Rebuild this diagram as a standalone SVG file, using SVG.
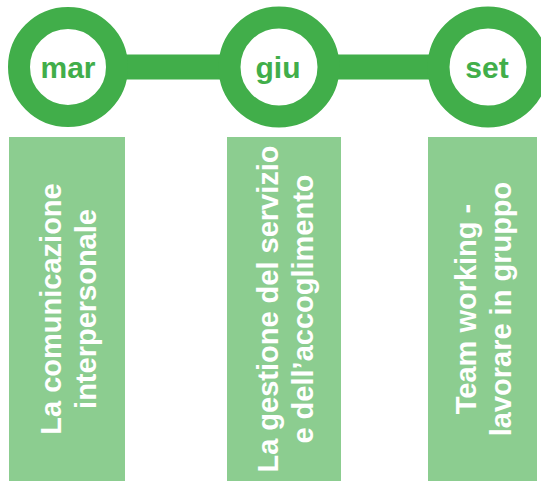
<svg xmlns="http://www.w3.org/2000/svg" width="541" height="481" viewBox="0 0 541 481">
<style>
.ring{fill:#fff;stroke:#41AE4A;stroke-width:22}
.lbl{font-family:"Liberation Sans",Arial,sans-serif;font-weight:bold;font-size:30px;fill:#41AE4A;text-anchor:middle}
.box{fill:#8CCD90}
.bt{font-family:"Liberation Sans",Arial,sans-serif;font-weight:bold;font-size:29px;fill:#fff;text-anchor:middle}
</style>
<g id="connectors">
<rect x="68" y="54.5" width="420" height="25" fill="#41AE4A"/>
</g>
<g id="mar">
<circle class="ring" cx="68" cy="67" r="49"/>
<text class="lbl" x="68" y="77.5">mar</text>
</g>
<g id="giu">
<circle class="ring" cx="279" cy="67" r="49.5"/>
<text class="lbl" x="278" y="77.5">giu</text>
</g>
<g id="set">
<circle class="ring" cx="488" cy="67" r="49.5"/>
<text class="lbl" x="487" y="77.5">set</text>
</g>
<g id="box1">
<rect class="box" x="9" y="137" width="116" height="344"/>
<g transform="translate(67,309) rotate(-90)">
<text class="bt" x="0" y="-6">La comunicazione</text>
<text class="bt" x="0" y="29">interpersonale</text>
</g>
</g>
<g id="box2">
<rect class="box" x="227" y="137" width="114" height="344"/>
<g transform="translate(284,309) rotate(-90)">
<text class="bt" x="0" y="-6">La gestione del servizio</text>
<text class="bt" x="0" y="29">e dell’accoglimento</text>
</g>
</g>
<g id="box3">
<rect class="box" x="428" y="137" width="109" height="344"/>
<g transform="translate(482,309) rotate(-90)">
<text class="bt" x="0" y="-6">Team working -</text>
<text class="bt" x="0" y="29">lavorare in gruppo</text>
</g>
</g>
</svg>
